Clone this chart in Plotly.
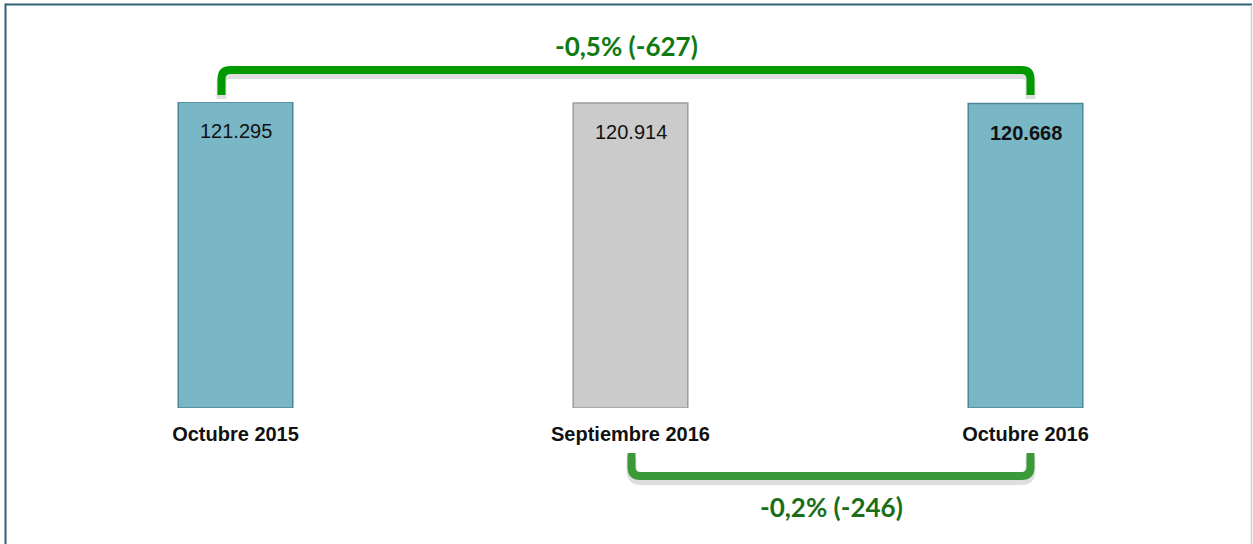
import plotly.graph_objects as go

# ---------------- data ----------------
categories = ["Octubre 2015", "Septiembre 2016", "Octubre 2016"]
values = [121295, 120914, 120668]
bar_colors = ["#79b7c7", "#cbcbcb", "#79b7c7"]
bar_line_colors = ["#4d8796", "#9e9e9e", "#4d8796"]
bold_value = [False, False, True]

# ---------------- layout constants ----------------
W, H = 1253, 544
ML, MR, MT, MB = 38, 30, 102, 136
PW = W - ML - MR
PH = H - MT - MB


def fmt(v):
    return f"{v:,}".replace(",", ".")


def px_x(px):
    return (px - ML) / PW


def px_y(py):
    return (H - MB - py) / PH


unit = PW / 3.0  # pixels per category


def d(px_off):
    return px_off / unit


fig = go.Figure()
fig.add_trace(go.Bar(
    x=categories, y=values,
    width=0.29,
    marker=dict(color=bar_colors, line=dict(color=bar_line_colors, width=1.5)),
    hoverinfo="skip",
))

# value labels inside the bars
for i, (c, v) in enumerate(zip(categories, values)):
    t = fmt(v)
    if bold_value[i]:
        t = f"<b>{t}</b>"
    fig.add_annotation(x=c, y=v, xref="x", yref="y", text=t, showarrow=False,
                       yanchor="top", yshift=-16,
                       font=dict(family="Arial, Liberation Sans", size=20, color="#111111"))

# change labels (computed from data)
def change_text(a, b):
    diff = b - a
    pct = diff / a * 100
    return f"{pct:.1f}".replace(".", ",") + f"% ({diff})"

top_txt = change_text(values[0], values[2])
bot_txt = change_text(values[1], values[2])


def bracket(x0, x1, y_end, y_bar, r_px=9):
    rx = d(r_px)
    ry = r_px / PH * (1 if y_bar > y_end else -1)
    return (f"M {x0},{y_end} L {x0},{y_bar - ry} Q {x0},{y_bar} {x0 + rx},{y_bar} "
            f"L {x1 - rx},{y_bar} Q {x1},{y_bar} {x1},{y_bar - ry} L {x1},{y_end}")

# top bracket (Octubre 2015 -> Octubre 2016)
tx0, tx1 = 0 + d(-14), 2 + d(5)
fig.add_shape(type="path", xref="x", yref="paper",
              path=bracket(tx0, tx1, px_y(99), px_y(74)),
              line=dict(color="rgba(0,0,0,0.13)", width=10), layer="below")
fig.add_shape(type="path", xref="x", yref="paper",
              path=bracket(tx0, tx1, px_y(95), px_y(70)),
              line=dict(color="#009900", width=8))
fig.add_annotation(x=(tx0 + tx1) / 2, y=px_y(46), xref="x", yref="paper",
                   yanchor="middle", xanchor="center",
                   text=f"<b>{top_txt}</b>", showarrow=False,
                   font=dict(family="Lato", size=26, color="#0f7a0f"))

# bottom bracket (Septiembre 2016 -> Octubre 2016)
bx0, bx1 = 1 + d(1), 2 + d(5)
fig.add_shape(type="path", xref="x", yref="paper",
              path=bracket(bx0, bx1, px_y(457), px_y(480)),
              line=dict(color="rgba(0,0,0,0.13)", width=10), layer="below")
fig.add_shape(type="path", xref="x", yref="paper",
              path=bracket(bx0, bx1, px_y(453), px_y(476)),
              line=dict(color="#3a9a3a", width=8))
fig.add_annotation(x=(bx0 + bx1) / 2, y=px_y(507), xref="x", yref="paper",
                   yanchor="middle", xanchor="center",
                   text=f"<b>{bot_txt}</b>", showarrow=False,
                   font=dict(family="Lato", size=26, color="#1a6e1a"))

# frame
fig.add_shape(type="line", xref="paper", yref="paper",
              x0=px_x(5.5), x1=px_x(5.5), y0=px_y(3.5), y1=px_y(H + 2),
              line=dict(color="#2c6272", width=2))
fig.add_shape(type="line", xref="paper", yref="paper",
              x0=px_x(5), x1=px_x(1252), y0=px_y(4.5), y1=px_y(4.5),
              line=dict(color="#2c6272", width=2))
fig.add_shape(type="line", xref="paper", yref="paper",
              x0=px_x(1251.5), x1=px_x(1251.5), y0=px_y(5), y1=px_y(H + 2),
              line=dict(color="#c3d3db", width=1.5))

fig.update_layout(
    width=W, height=H,
    margin=dict(l=ML, r=MR, t=MT, b=MB),
    plot_bgcolor="white", paper_bgcolor="white",
    showlegend=False,
    xaxis=dict(range=[-0.5, 2.5], showgrid=False, zeroline=False, showline=False,
               ticks="", ticklabelstandoff=12,
               tickfont=dict(family="Arial, Liberation Sans", size=20, color="#111111", weight="bold")),
    yaxis=dict(range=[0, values[0]], visible=False, showgrid=False),
)

fig.write_html("out.html", config={"displayModeBar": False},
               post_script="document.body.style.margin='0px';document.body.style.padding='0px';")
